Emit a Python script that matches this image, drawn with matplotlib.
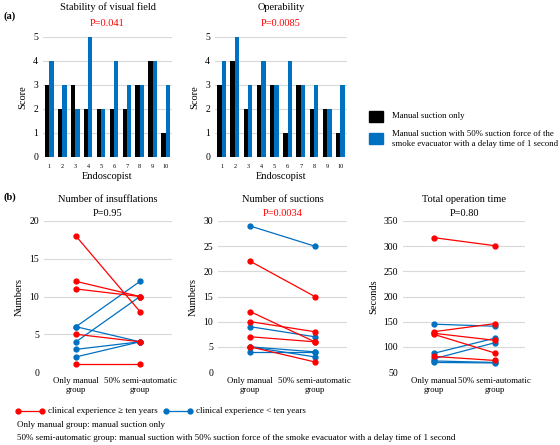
import matplotlib.pyplot as plt
from matplotlib.lines import Line2D

plt.rcParams['font.family'] = ['Liberation Serif', 'DejaVu Serif']

# ---- data ----
endoscopists = [str(i) for i in range(1, 11)]
stab_manual = [3, 2, 3, 2, 2, 2, 2, 3, 4, 1]
stab_semi = [4, 3, 2, 5, 2, 4, 3, 3, 4, 3]
oper_manual = [3, 4, 2, 3, 3, 1, 3, 2, 2, 1]
oper_semi = [4, 5, 3, 4, 3, 4, 3, 3, 2, 3]

groups = ['Only manual\ngroup', '50% semi-automatic\ngroup']

# (manual, semi) pairs; red = >= ten years, blue = < ten years
insuf_red = [(18, 8), (12, 10), (11, 10), (5, 4), (1, 1)]
insuf_blue = [(6, 12), (4, 10), (6, 4), (3, 4), (2, 4)]
suct_red = [(22, 15), (12, 6), (10, 8), (7, 6), (5, 2)]
suct_blue = [(29, 25), (9, 7), (5, 4), (5, 3), (4, 4)]
time_red = [(317, 301), (130, 146), (127, 113), (125, 88), (81, 73)]
time_blue = [(145, 141), (87, 117), (76, 108), (72, 69), (69, 68)]

RED = '#FF0000'
BLUE = '#0070C0'
GRID = '#D9D9D9'
W, H = 560, 445

fig = plt.figure(figsize=(W / 100, H / 100), dpi=100)


def ax_px(x0, y0, x1, y1):
    return fig.add_axes([x0 / W, 1 - y1 / H, (x1 - x0) / W, (y1 - y0) / H])


def clean(ax):
    for s in ax.spines.values():
        s.set_visible(False)
    ax.grid(axis='y', color=GRID, lw=0.8)
    ax.set_axisbelow(True)
    ax.tick_params(length=0, labelsize=7)


def bar_panel(ax, manual, semi, title, p):
    x = list(range(1, 11))
    bw = 0.33
    ax.bar([i - bw / 2 for i in x], manual, bw, color='black', zorder=3)
    ax.bar([i + bw / 2 for i in x], semi, bw, color=BLUE, zorder=3)
    clean(ax)
    ax.set_ylim(0, 5)
    ax.set_yticks(range(6))
    ax.set_xlim(0.5, 10.5)
    ax.set_xticks(x)
    ax.set_xticklabels(endoscopists, fontsize=4.5)
    ax.tick_params(axis='x', pad=5)
    ax.set_xlabel('Endoscopist', fontsize=7.5, labelpad=2)
    ax.text(0.5, 1.25, title, transform=ax.transAxes, ha='center', va='center', fontsize=7.5)
    ax.text(0.5, 1.11, p, transform=ax.transAxes, ha='center', va='center', fontsize=7.5, color=RED)


def line_panel(ax, red, blue, title, p, pcol, ylim, step, ylabel):
    for a, b in blue:
        ax.plot([0, 1], [a, b], color=BLUE, lw=0.9, marker='o', ms=3.5)
    for a, b in red:
        ax.plot([0, 1], [a, b], color=RED, lw=0.9, marker='o', ms=3.5)
    clean(ax)
    ax.set_ylim(*ylim)
    ax.set_yticks(range(ylim[0], ylim[1] + 1, step))
    ax.set_xlim(-0.5, 1.5)
    ax.set_xticks([0, 1])
    ax.set_xticklabels(groups, fontsize=6.3)
    ax.set_ylabel(ylabel, fontsize=7.5)
    ax.text(0.5, 1.14, title, transform=ax.transAxes, ha='center', va='center', fontsize=7.5)
    ax.text(0.5, 1.05, p, transform=ax.transAxes, ha='center', va='center', fontsize=7.5,
            color=pcol)


# ---- (a) ----
ax1 = ax_px(43, 37, 172, 157)
bar_panel(ax1, stab_manual, stab_semi, 'Stability of visual field', 'P=0.041')
ax1.set_ylabel('Score', fontsize=7.5)
ax2 = ax_px(215, 37, 347, 157)
bar_panel(ax2, oper_manual, oper_semi, 'Operability', 'P=0.0085')
ax2.set_ylabel('Score', fontsize=7.5)

fig.text(3 / W, 1 - 16 / H, '(a)', fontsize=7.5, fontweight='bold', va='center')
fig.text(3 / W, 1 - 197 / H, '(b)', fontsize=7.5, fontweight='bold', va='center')

# bar legend
fig.patches.append(plt.Rectangle((369 / W, 1 - 122 / H), 14 / W, 11 / H, color='black',
                                 transform=fig.transFigure))
fig.patches.append(plt.Rectangle((369 / W, 1 - 144 / H), 14 / W, 11 / H, color=BLUE,
                                 transform=fig.transFigure))
fig.text(392 / W, 1 - 116 / H, 'Manual suction only', fontsize=6.3, va='center')
fig.text(392 / W, 1 - 139 / H,
         'Manual suction with 50% suction force of the\nsmoke evacuator with a delay time of 1 second',
         fontsize=6.3, va='center', linespacing=1.4)

# ---- (b) ----
b1 = ax_px(44, 221, 172, 372)
line_panel(b1, insuf_red, insuf_blue, 'Number of insufflations', 'P=0.95', 'black', (0, 20), 5, 'Numbers')
b2 = ax_px(218, 221, 347, 372)
line_panel(b2, suct_red, suct_blue, 'Number of suctions', 'P=0.0034', RED, (0, 30), 5, 'Numbers')
b3 = ax_px(403, 221, 525, 372)
line_panel(b3, time_red, time_blue, 'Total operation time', 'P=0.80', 'black', (50, 350), 50, 'Seconds')

# line legend
for x0, col in [(18, RED), (166, BLUE)]:
    fig.add_artist(Line2D([x0 / W, (x0 + 24) / W], [1 - 411 / H] * 2, color=col, lw=0.9,
                          marker='o', ms=3.5, transform=fig.transFigure))
fig.text(48 / W, 1 - 411 / H, 'clinical experience \u2265 ten years', fontsize=6.5, va='center')
fig.text(196 / W, 1 - 411 / H, 'clinical experience < ten years', fontsize=6.5, va='center')

fig.text(17 / W, 1 - 425 / H, 'Only manual group: manual suction only', fontsize=6.5, va='center')
fig.text(17 / W, 1 - 438 / H,
         '50% semi-automatic group: manual suction with 50% suction force of the smoke evacuator '
         'with a delay time of 1 second', fontsize=6.5, va='center')

fig.savefig('out.png', dpi=100)
